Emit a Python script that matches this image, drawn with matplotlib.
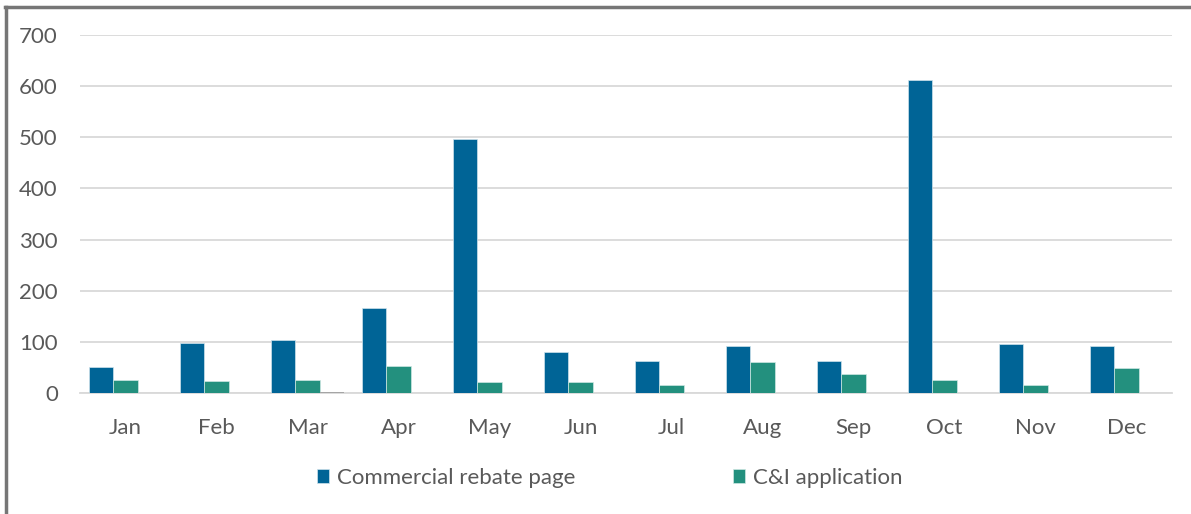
import matplotlib.pyplot as plt
from matplotlib.lines import Line2D
import numpy as np

months = ["Jan", "Feb", "Mar", "Apr", "May", "Jun", "Jul", "Aug", "Sep", "Oct", "Nov", "Dec"]
rebate_page = [51, 98, 104, 167, 497, 81, 63, 92, 63, 612, 95, 92]
ci_application = [25, 24, 26, 53, 22, 22, 16, 61, 37, 26, 16, 48]
other = [0, 0, 1, 0, 0, 0, 0, 0, 0, 0, 0, 0]

plt.rcParams['font.family'] = ['Lato', 'DejaVu Sans']
txt = "#595959"

fig = plt.figure(figsize=(11.91, 5.14), dpi=100)
ax = fig.add_axes([0.0672, 0.2354, 0.9168, 0.6966])

x = np.arange(len(months))
w = 0.27
b1 = ax.bar(x - w, rebate_page, w, color="#006496", edgecolor="#cfe3ec", linewidth=0.5,
            label="Commercial rebate page", zorder=3)
b2 = ax.bar(x, ci_application, w, color="#23907e", edgecolor="#cfe8e3", linewidth=0.5,
            label="C&I application", zorder=3)
ax.bar(x + w, other, w, color="#a5a5a5", zorder=3)

ax.set_xlim(-0.5, 11.5)
ax.set_ylim(0, 700)
ax.set_yticks(range(0, 701, 100))
ax.set_xticks(x)
ax.set_xticklabels(months)
ax.yaxis.grid(True, color="#d9d9d9", linewidth=1.3, zorder=0)
for s in ["top", "right", "left"]:
    ax.spines[s].set_visible(False)
ax.spines["bottom"].set_color("#d9d9d9")
ax.spines["bottom"].set_linewidth(1.3)
ax.tick_params(axis="both", length=0, labelsize=16, colors=txt)
ax.tick_params(axis="x", pad=18)
ax.tick_params(axis="y", pad=16)

fig.legend(handles=[b1, b2], loc="center", bbox_to_anchor=(0.512, 0.07), ncol=2,
           frameon=False, fontsize=16, labelcolor=txt, handlelength=0.55,
           handleheight=0.55, handletextpad=0.36, columnspacing=7.1)

fig.add_artist(Line2D([0.004, 1], [0.987, 0.987], color="#767676", linewidth=2.5,
                      transform=fig.transFigure))
fig.add_artist(Line2D([0.005, 0.005], [0, 0.987], color="#767676", linewidth=2.5,
                      transform=fig.transFigure))

fig.savefig("out.png", dpi=100)
